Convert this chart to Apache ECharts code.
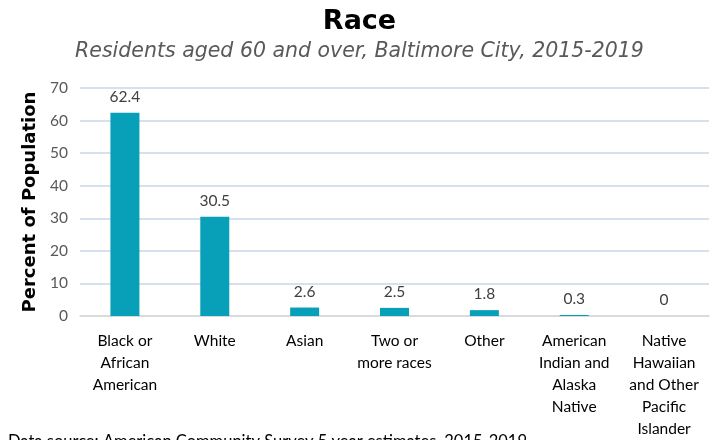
<!DOCTYPE html>
<html>
<head>
<meta charset="utf-8">
<script src="https://cdn.jsdelivr.net/npm/echarts@6/dist/echarts.min.js"></script>
<style>
  html, body { margin: 0; padding: 0; background: #fff; }
  #chart { width: 719px; height: 440px; }
</style>
</head>
<body>
<div id="chart"></div>
<script>
// categories and values
var categories = [
  "Black or\nAfrican\nAmerican",
  "White",
  "Asian",
  "Two or\nmore races",
  "Other",
  "American\nIndian and\nAlaska\nNative",
  "Native\nHawaiian\nand Other\nPacific\nIslander"
];
var percents = [62.4, 30.5, 2.6, 2.5, 1.8, 0.3, 0];
var yTicks = { min: 0, max: 70, interval: 10 };

var labelFont = "Lato, 'Liberation Sans', sans-serif";

var myChart = echarts.init(document.getElementById("chart"));
myChart.setOption({
  animation: false,
  title: [
    {
      text: "Race",
      left: "center",
      top: 3,
      textStyle: { fontFamily: "'DejaVu Sans', sans-serif", fontSize: 27, fontWeight: "bold", color: "#000" }
    },
    {
      text: "Residents aged 60 and over, Baltimore City, 2015-2019",
      left: "center",
      top: 37,
      textStyle: { fontFamily: "'DejaVu Sans', sans-serif", fontSize: 20.5, fontStyle: "italic", fontWeight: "normal", color: "#595959" }
    },
    {
      text: "Data source: American Community Survey 5 year estimates, 2015-2019",
      left: 3,
      top: 428,
      textStyle: { fontFamily: labelFont, fontSize: 16.5, fontWeight: "normal", color: "#000" }
    }
  ],
  grid: { left: 80, right: 10, top: 88, bottom: 123, containLabel: false },
  xAxis: {
    type: "category",
    data: categories,
    axisTick: { show: false },
    axisLine: { lineStyle: { color: "#d9d9d9", width: 1.5 } },
    axisLabel: {
      interval: 0,
      margin: 14,
      lineHeight: 22,
      fontFamily: labelFont,
      fontSize: 15.5,
      color: "#000"
    }
  },
  yAxis: {
    type: "value",
    min: yTicks.min,
    max: yTicks.max,
    interval: yTicks.interval,
    name: "Percent of Population",
    nameLocation: "middle",
    nameGap: 38,
    nameTextStyle: { fontFamily: "'DejaVu Sans', sans-serif", fontSize: 18, fontWeight: "bold", color: "#000" },
    axisLine: { show: false },
    axisTick: { show: false },
    axisLabel: { fontFamily: labelFont, fontSize: 15.5, color: "#595959", margin: 12 },
    splitLine: { lineStyle: { color: "#c9d6ea", width: 1.5 } }
  },
  series: [
    {
      type: "bar",
      data: percents,
      barWidth: 29,
      itemStyle: { color: "#08a0b8" },
      label: {
        show: true,
        position: "top",
        distance: 8,
        fontFamily: labelFont,
        fontSize: 15.5,
        color: "#404040"
      }
    }
  ]
});
</script>
</body>
</html>
